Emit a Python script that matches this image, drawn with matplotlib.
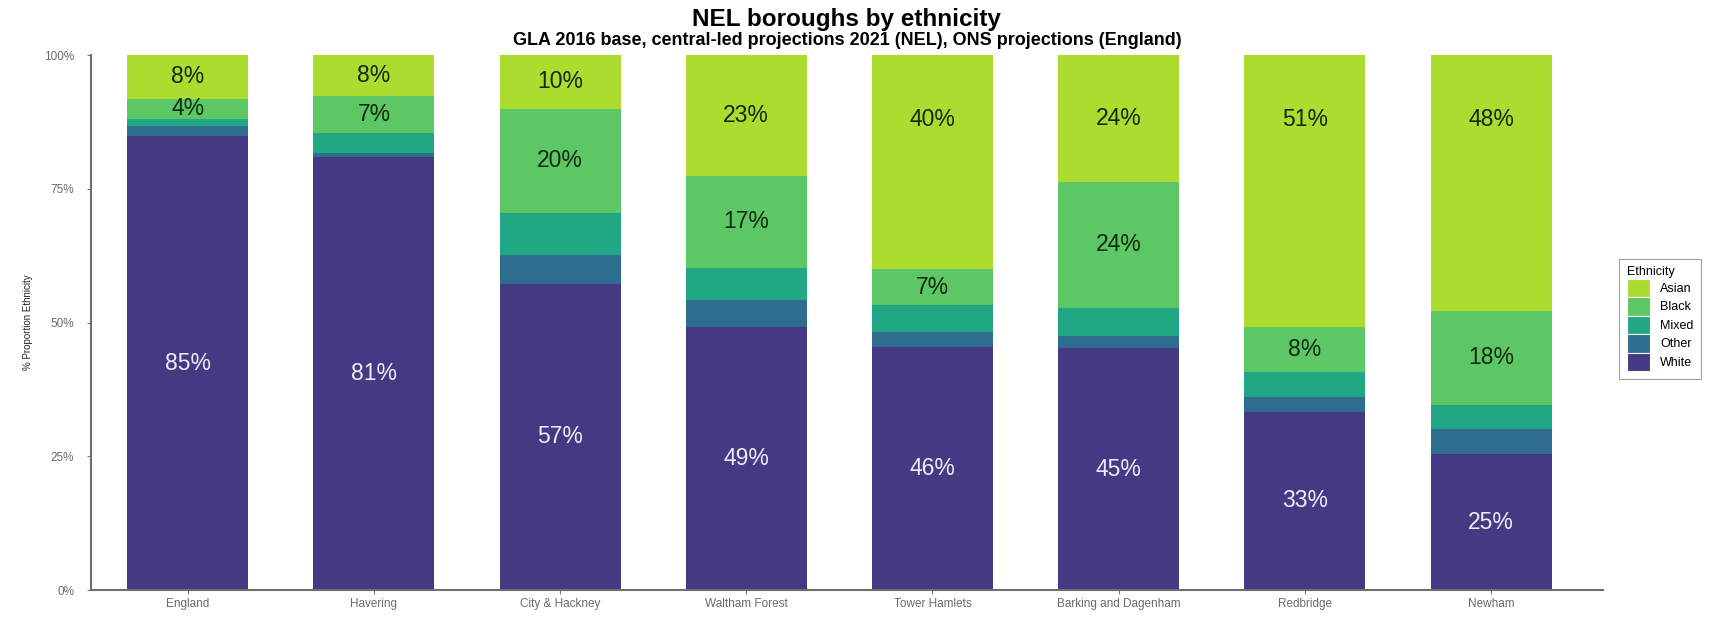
import numpy as np
import matplotlib
matplotlib.use("Agg")
from matplotlib import pyplot as plt
from matplotlib.patches import Patch
from matplotlib.ticker import FuncFormatter

plt.rcParams['font.family'] = ['Liberation Sans', 'DejaVu Sans']

# share of population by ethnic group, percent (stacked bottom -> top)
boroughs = ["England", "Havering", "City & Hackney", "Waltham Forest",
            "Tower Hamlets", "Barking and Dagenham", "Redbridge", "Newham"]
white = [84.8, 81.0, 57.2, 49.2, 45.5, 45.2, 33.3, 25.4]
other = [1.9, 0.7, 5.4, 5.0, 2.8, 2.2, 2.8, 4.7]
mixed = [1.4, 3.8, 7.8, 6.0, 4.9, 5.4, 4.7, 4.5]
black = [3.7, 6.9, 19.6, 17.2, 6.8, 23.5, 8.3, 17.6]
asian = [8.2, 7.6, 10.0, 22.6, 40.0, 23.7, 50.9, 47.8]

groups = ["White", "Other", "Mixed", "Black", "Asian"]
colours = {"White": "#443a83", "Other": "#2e6d8e", "Mixed": "#22a785",
           "Black": "#5cc764", "Asian": "#addc30"}
text_col = {"White": "#eeecf6", "Black": "#102a10", "Asian": "#102a10"}


def pct(v):
    return "{}%".format(int(v + 0.5))


fig = plt.figure(figsize=(17.16, 6.18), dpi=100)
ax = fig.add_axes([0.053, 0.0453, 0.881, 0.8657])

x = np.arange(len(boroughs))
series = dict(zip(groups, [white, other, mixed, black, asian]))
bottom = np.zeros(len(boroughs))
for g in groups:
    vals = np.array(series[g])
    ax.bar(x, vals, bottom=bottom, width=0.65, color=colours[g], linewidth=0)
    if g in text_col:
        mid = bottom + vals / 2
        if g == "Asian":
            # tall top blocks get their label near the top of the bar
            mid = np.maximum(mid, 100 - 12)
        for xi, yi, v in zip(x, mid, vals):
            ax.text(xi, yi, pct(v), ha="center", va="center",
                    fontsize=16.5, color=text_col[g])
    bottom += vals

ax.set_xlim(-0.52, 7.6)
ax.set_ylim(0, 100)
ax.set_xticks(x)
ax.set_xticklabels(boroughs)
ax.set_yticks([0, 25, 50, 75, 100])
ax.yaxis.set_major_formatter(FuncFormatter(lambda v, p: "{:.0f}%".format(v)))
ax.tick_params(axis="both", labelsize=8.5, labelcolor="#6a6a6a", color="#777777",
               length=3, width=0.8)
ax.tick_params(axis="y", pad=9)
ax.tick_params(axis="x", pad=3)
for side in ["top", "right"]:
    ax.spines[side].set_visible(False)
for side in ["left", "bottom"]:
    ax.spines[side].set_color("#6e6e6e")
    ax.spines[side].set_linewidth(1.5)
ax.set_ylabel("% Proportion Ethnicity", fontsize=7, color="#222222", labelpad=8)

fig.text(0.4935, 0.968, "NEL boroughs by ethnicity", ha="center", va="center",
         fontsize=17.5, fontweight="bold")
fig.text(0.4935, 0.934,
         "GLA 2016 base, central-led projections 2021 (NEL), ONS projections (England)",
         ha="center", va="center", fontsize=13, fontweight="bold")

handles = [Patch(facecolor=colours[g], edgecolor="white", linewidth=0.8, label=g)
           for g in groups[::-1]]
leg = fig.legend(handles=handles, title="Ethnicity", loc="upper left",
                 bbox_to_anchor=(1619 / 1716, 1 - 259 / 618), fontsize=9,
                 title_fontsize=9, frameon=True, fancybox=False,
                 handlelength=1.9, handleheight=1.9, labelspacing=0.0,
                 handletextpad=0.8, borderpad=0.6, borderaxespad=0,
                 alignment="left")
leg.get_frame().set_edgecolor("#888888")
leg.get_frame().set_linewidth(0.8)

plt.savefig("out.png", dpi=100, facecolor="white")
